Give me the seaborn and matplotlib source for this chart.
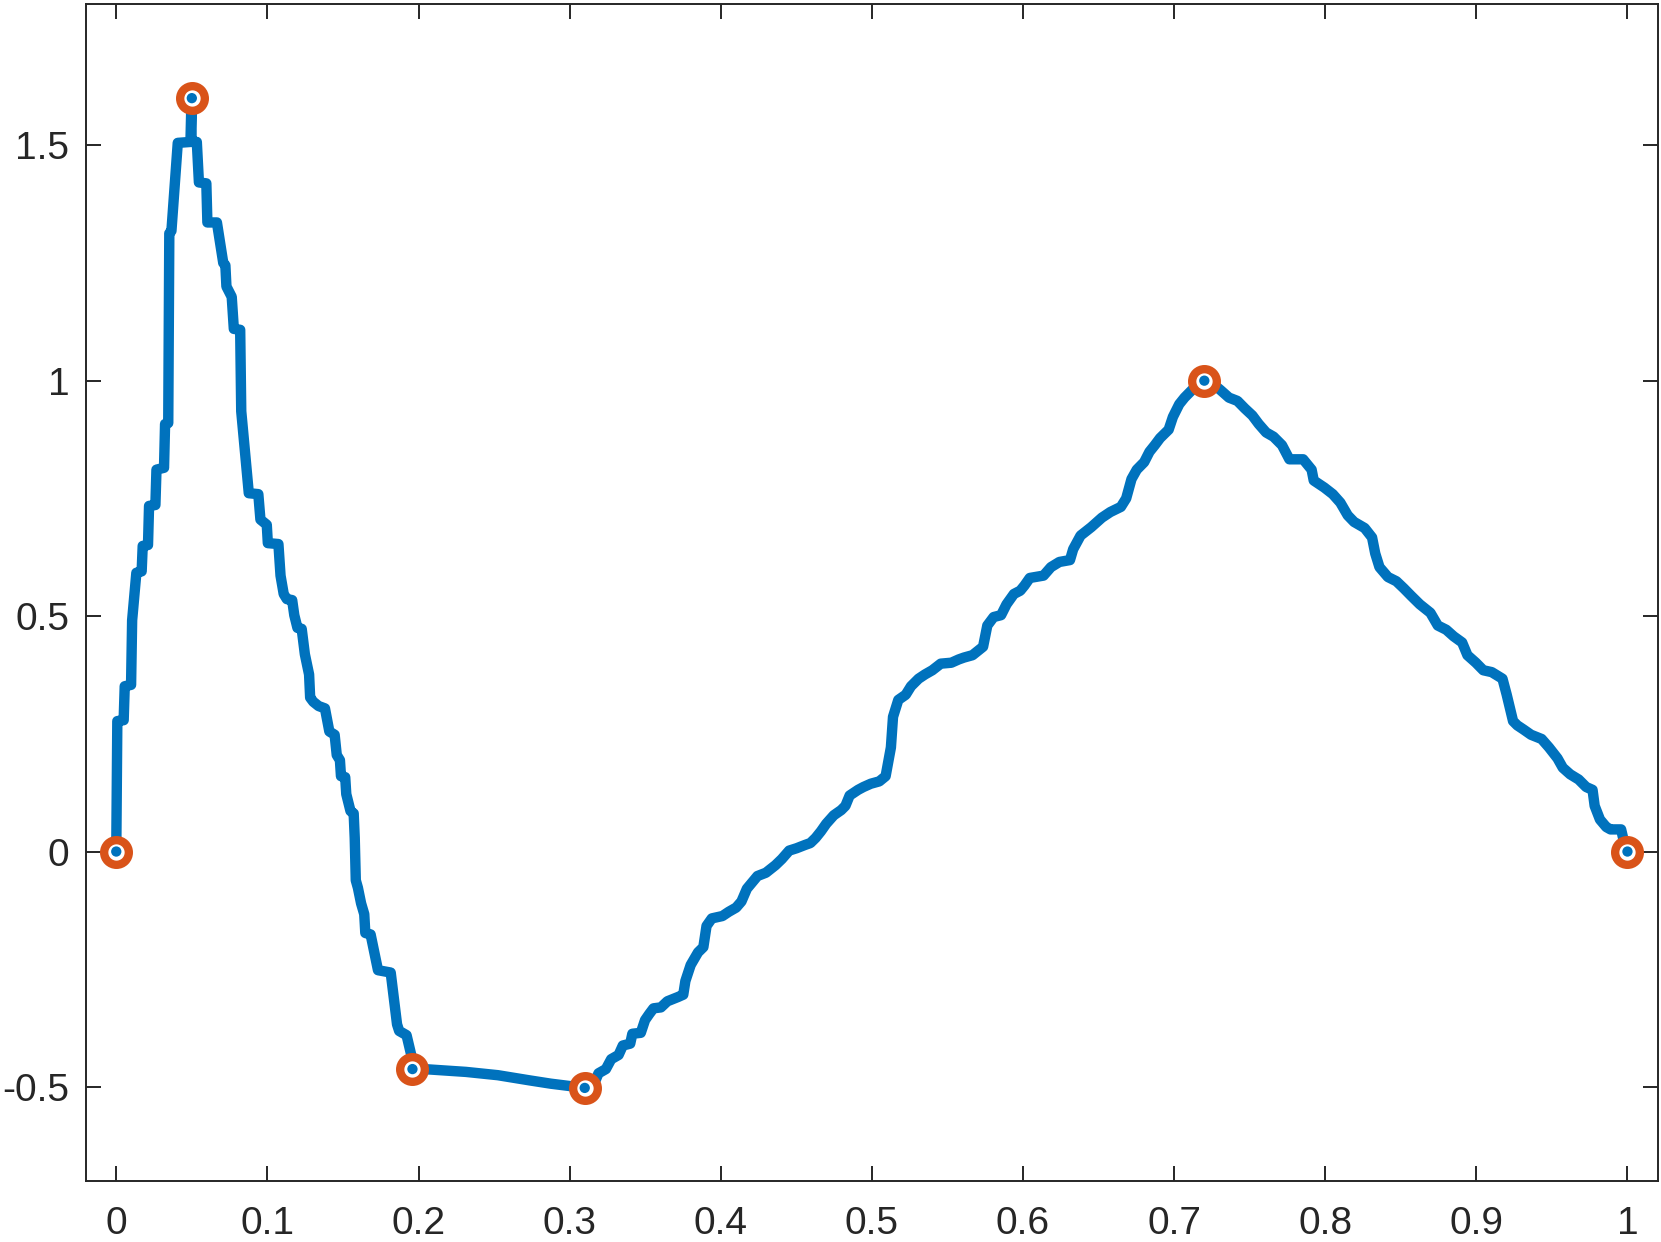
import numpy as np
import pandas as pd
import matplotlib
matplotlib.use("Agg")
import matplotlib.pyplot as plt
import seaborn as sns

# curve
x_curve = [0.0, 0.0007, 0.0049, 0.0056, 0.0098, 0.0105, 0.0133, 0.0168, 0.0175, 0.0210,
           0.0217, 0.0259, 0.0266, 0.0316, 0.0323, 0.0344, 0.0351, 0.0365, 0.0407, 0.0491,
           0.0498, 0.0498, 0.0533, 0.0547, 0.0596, 0.0603, 0.0666, 0.0708, 0.0722, 0.0729,
           0.0764, 0.0778, 0.0820, 0.0827, 0.0877, 0.0940, 0.0954, 0.0996, 0.1003, 0.1073,
           0.1087, 0.1108, 0.1129, 0.1164, 0.1178, 0.1199, 0.1227, 0.1248, 0.1276, 0.1283,
           0.1304, 0.1339, 0.1381, 0.1410, 0.1445, 0.1459, 0.1480, 0.1487, 0.1515, 0.1522,
           0.1550, 0.1571, 0.1578, 0.1585, 0.1599, 0.1620, 0.1641, 0.1648, 0.1683, 0.1732,
           0.1816, 0.1858, 0.1872, 0.1921, 0.1957, 0.1964, 0.2034, 0.2314, 0.2525, 0.2735,
           0.2875, 0.3100, 0.3156, 0.3191, 0.3240, 0.3275, 0.3324, 0.3352, 0.3401, 0.3415,
           0.3471, 0.3499, 0.3527, 0.3555, 0.3604, 0.3647, 0.3717, 0.3752, 0.3766, 0.3801,
           0.3850, 0.3885, 0.3906, 0.3941, 0.4011, 0.4053, 0.4102, 0.4137, 0.4173, 0.4243,
           0.4299, 0.4362, 0.4404, 0.4453, 0.4502, 0.4558, 0.4593, 0.4628, 0.4663, 0.4698,
           0.4748, 0.4797, 0.4825, 0.4853, 0.4909, 0.4944, 0.4993, 0.5049, 0.5091, 0.5126,
           0.5140, 0.5175, 0.5224, 0.5259, 0.5309, 0.5351, 0.5400, 0.5456, 0.5526, 0.5575,
           0.5610, 0.5666, 0.5736, 0.5764, 0.5806, 0.5855, 0.5891, 0.5940, 0.5982, 0.6010,
           0.6045, 0.6136, 0.6185, 0.6241, 0.6311, 0.6332, 0.6381, 0.6452, 0.6522, 0.6578,
           0.6648, 0.6683, 0.6718, 0.6753, 0.6802, 0.6837, 0.6872, 0.6907, 0.6964, 0.6992,
           0.7034, 0.7069, 0.7118, 0.7200, 0.7258, 0.7307, 0.7363, 0.7419, 0.7468, 0.7518,
           0.7560, 0.7609, 0.7658, 0.7714, 0.7763, 0.7854, 0.7910, 0.7924, 0.7994, 0.8050,
           0.8100, 0.8149, 0.8191, 0.8261, 0.8310, 0.8331, 0.8359, 0.8415, 0.8471, 0.8520,
           0.8569, 0.8626, 0.8696, 0.8745, 0.8801, 0.8850, 0.8906, 0.8941, 0.8997, 0.9046,
           0.9102, 0.9173, 0.9201, 0.9243, 0.9271, 0.9313, 0.9362, 0.9432, 0.9481, 0.9537,
           0.9572, 0.9621, 0.9677, 0.9727, 0.9769, 0.9783, 0.9818, 0.9860, 0.9888, 0.9958,
           0.9979, 1.0]
y_curve = [0.0, 0.277, 0.279, 0.351, 0.354, 0.491, 0.592, 0.595, 0.649, 0.651,
           0.734, 0.736, 0.811, 0.815, 0.908, 0.910, 1.313, 1.318, 1.505, 1.507,
           1.599, 1.507, 1.507, 1.421, 1.419, 1.336, 1.336, 1.250, 1.245, 1.200,
           1.178, 1.110, 1.108, 0.935, 0.761, 0.759, 0.705, 0.694, 0.655, 0.653,
           0.586, 0.547, 0.536, 0.534, 0.502, 0.475, 0.473, 0.419, 0.376, 0.327,
           0.318, 0.309, 0.304, 0.255, 0.248, 0.205, 0.194, 0.160, 0.158, 0.122,
           0.086, 0.081, 0.029, -0.061, -0.077, -0.110, -0.133, -0.173, -0.176, -0.252,
           -0.257, -0.367, -0.381, -0.390, -0.439, -0.462, -0.462, -0.468, -0.475, -0.486,
           -0.493, -0.502, -0.498, -0.471, -0.462, -0.441, -0.432, -0.412, -0.408, -0.387,
           -0.385, -0.358, -0.345, -0.333, -0.331, -0.318, -0.309, -0.304, -0.275, -0.241,
           -0.214, -0.203, -0.158, -0.142, -0.137, -0.128, -0.119, -0.106, -0.079, -0.052,
           -0.045, -0.029, -0.016, 0.002, 0.007, 0.014, 0.018, 0.029, 0.043, 0.059,
           0.077, 0.088, 0.097, 0.119, 0.131, 0.137, 0.144, 0.149, 0.160, 0.221,
           0.286, 0.322, 0.333, 0.351, 0.367, 0.376, 0.385, 0.399, 0.401, 0.408,
           0.412, 0.417, 0.435, 0.480, 0.498, 0.502, 0.525, 0.547, 0.554, 0.565,
           0.581, 0.586, 0.604, 0.615, 0.619, 0.642, 0.671, 0.689, 0.709, 0.721,
           0.732, 0.750, 0.791, 0.811, 0.827, 0.849, 0.863, 0.878, 0.896, 0.923,
           0.950, 0.964, 0.980, 1.000, 0.993, 0.980, 0.964, 0.957, 0.941, 0.926,
           0.908, 0.890, 0.881, 0.863, 0.833, 0.833, 0.811, 0.788, 0.773, 0.759,
           0.741, 0.714, 0.700, 0.687, 0.667, 0.633, 0.604, 0.583, 0.574, 0.559,
           0.543, 0.525, 0.507, 0.480, 0.471, 0.457, 0.444, 0.417, 0.401, 0.385,
           0.381, 0.367, 0.333, 0.277, 0.268, 0.259, 0.248, 0.239, 0.221, 0.198,
           0.178, 0.164, 0.153, 0.137, 0.131, 0.097, 0.068, 0.052, 0.047, 0.047,
           0.018, 0.0]

# highlighted points
x_pts = [0.0, 0.05, 0.196, 0.31, 0.72, 1.0]
y_pts = [0.0, 1.6, -0.462, -0.502, 1.0, 0.0]

x_ticks = [0, 0.1, 0.2, 0.3, 0.4, 0.5, 0.6, 0.7, 0.8, 0.9, 1]
x_ticklabels = ["0", "0.1", "0.2", "0.3", "0.4", "0.5", "0.6", "0.7", "0.8", "0.9", "1"]
y_ticks = [-0.5, 0, 0.5, 1, 1.5]
y_ticklabels = ["-0.5", "0", "0.5", "1", "1.5"]

sns.set_style("ticks")
plt.rcParams["font.family"] = ["Liberation Sans", "DejaVu Sans"]
plt.rcParams["axes.unicode_minus"] = False

dark = "#262626"
blue = "#0072BD"
orange = "#D95319"

fig = plt.figure(figsize=(16.61, 12.42), dpi=100)
ax = fig.add_axes([0.0518, 0.049, 0.9462, 0.9478])

curve = pd.DataFrame({"x": x_curve, "y": y_curve})
pts = pd.DataFrame({"x": x_pts, "y": y_pts})

sns.lineplot(data=curve, x="x", y="y", sort=False, estimator=None,
             color=blue, linewidth=7.5, ax=ax, zorder=2)
# orange rings with white hole, blue dot in the middle
sns.scatterplot(data=pts, x="x", y="y", marker="o", s=315, facecolor="white",
                edgecolor=orange, linewidth=6, ax=ax, zorder=3)
sns.scatterplot(data=pts, x="x", y="y", marker="o", s=55, color=blue,
                edgecolor="none", ax=ax, zorder=4)

ax.set_xlim(-0.02, 1.02)
ax.set_ylim(-0.70, 1.80)
ax.set_xticks(x_ticks)
ax.set_xticklabels(x_ticklabels)
ax.set_yticks(y_ticks)
ax.set_yticklabels(y_ticklabels)
ax.set_xlabel("")
ax.set_ylabel("")

ax.tick_params(axis="both", direction="in", length=11, width=1.4, color=dark,
               labelcolor=dark, labelsize=28, top=True, right=True)
ax.tick_params(axis="x", pad=18)
ax.tick_params(axis="y", pad=12)
for s in ax.spines.values():
    s.set_visible(True)
    s.set_color(dark)
    s.set_linewidth(1.4)

fig.savefig("out.png", dpi=100)
